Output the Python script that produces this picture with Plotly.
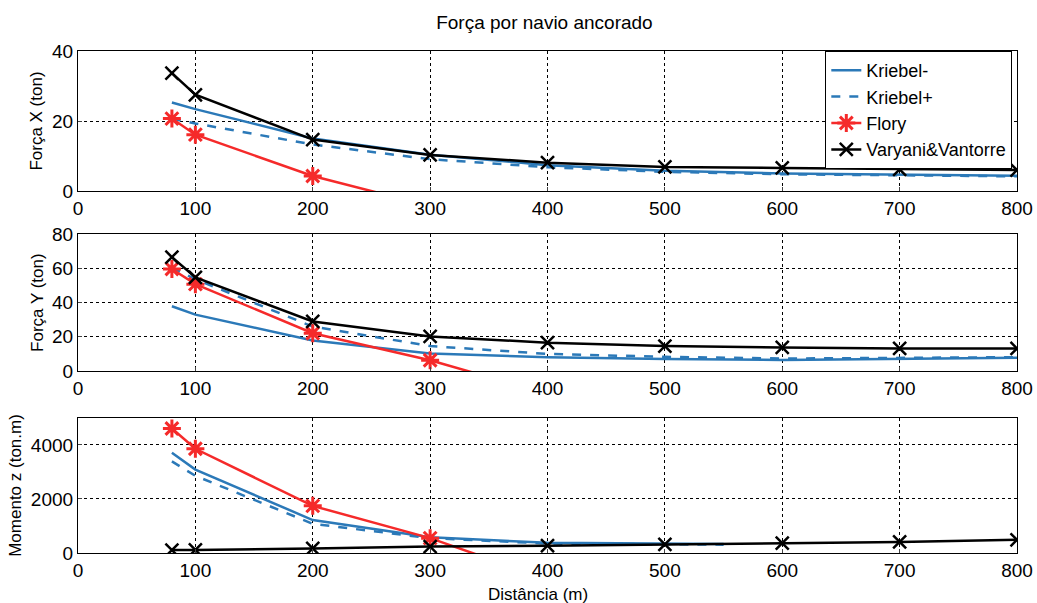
import plotly.graph_objects as go
from plotly.subplots import make_subplots

# ---- data ----
dist = [80, 100, 200, 300, 400, 500, 600, 700, 800]
dist_flory_x = [80, 100, 200, 300]
dist_flory = [80, 100, 200, 300, 400]
dist_kriebel_m = [80, 100, 200, 300, 400, 500, 550]

kriebel_minus_x = [25.3, 23.4, 15.0, 10.4, 7.4, 5.8, 5.0, 4.6, 4.4]
kriebel_plus_x = [20.7, 19.3, 13.3, 9.1, 6.8, 5.5, 4.8, 4.4, 4.2]
flory_x = [20.7, 16.1, 4.3, -4.3]
varyani_x = [33.7, 27.5, 14.7, 10.3, 8.1, 6.9, 6.6, 6.2, 6.0]

kriebel_minus_y = [37.9, 33.0, 17.8, 10.3, 8.0, 7.0, 6.5, 7.0, 7.8]
kriebel_plus_y = [60.5, 53.7, 26.0, 14.6, 10.0, 8.3, 7.3, 7.5, 8.1]
flory_y = [59.7, 50.8, 22.1, 6.3, -13.4]
varyani_y = [66.6, 54.8, 29.0, 20.2, 16.6, 14.6, 13.8, 13.2, 13.2]

kriebel_minus_m = [3710, 3090, 1220, 585, 380, 340, 330]
kriebel_plus_m = [3390, 2860, 1080, 550, 350, 320, 310]
flory_m = [4610, 3860, 1745, 550, -978]
varyani_m = [110, 115, 170, 240, 270, 320, 370, 410, 490]

x_ticks = [0, 100, 200, 300, 400, 500, 600, 700, 800]
names = ["Kriebel-", "Kriebel+", "Flory", "Varyani&Vantorre"]
titles_y = ["Força X (ton)", "Força Y (ton)", "Momento z (ton.m)"]

BLUE = "#2b79b8"
RED = "#f52a2a"
FONT = "Liberation Sans, Arial, sans-serif"

fig = make_subplots(rows=3, cols=1, vertical_spacing=0.09)

panels = [
    (dist, kriebel_minus_x, dist, kriebel_plus_x, dist_flory_x, flory_x, dist, varyani_x),
    (dist, kriebel_minus_y, dist, kriebel_plus_y, dist_flory, flory_y, dist, varyani_y),
    (dist_kriebel_m, kriebel_minus_m, dist_kriebel_m, kriebel_plus_m, dist_flory, flory_m, dist, varyani_m),
]

for i, (kx1, ky1, kx2, ky2, fx, fy, vx, vy) in enumerate(panels):
    r = i + 1
    show = i == 0
    fig.add_trace(go.Scatter(x=kx1, y=ky1, mode="lines", name=names[0], showlegend=show,
                             line=dict(color=BLUE, width=2.5)), row=r, col=1)
    fig.add_trace(go.Scatter(x=kx2, y=ky2, mode="lines", name=names[1], showlegend=show,
                             line=dict(color=BLUE, width=2.5, dash="dash")), row=r, col=1)
    fig.add_trace(go.Scatter(x=fx, y=fy, mode="lines+markers", name=names[2], showlegend=show,
                             line=dict(color=RED, width=2.5),
                             marker=dict(symbol="asterisk-open", size=15,
                                         line=dict(color=RED, width=3))), row=r, col=1)
    fig.add_trace(go.Scatter(x=vx, y=vy, mode="lines+markers", name=names[3], showlegend=show,
                             line=dict(color="black", width=2.5),
                             marker=dict(symbol="x-thin-open", size=13,
                                         line=dict(color="black", width=2.5))), row=r, col=1)

y_ranges = [[0, 40], [0, 80], [0, 5000]]
y_ticks = [[0, 20, 40], [0, 20, 40, 60, 80], [0, 2000, 4000]]
domains = [[0.721, 1.0], [0.3625, 0.635], [0.0, 0.269]]

for i in range(3):
    r = i + 1
    fig.update_xaxes(range=[0, 800], tickvals=x_ticks, showgrid=True, gridcolor="black",
                     griddash="dot", gridwidth=1, showline=True, linecolor="black",
                     linewidth=1.2, mirror=True, ticks="inside", ticklen=4,
                     tickfont=dict(size=19, color="black", family=FONT), zeroline=False,
                     automargin=False, row=r, col=1)
    fig.update_yaxes(range=y_ranges[i], tickvals=y_ticks[i], showgrid=True, gridcolor="black",
                     griddash="dot", gridwidth=1, showline=True, linecolor="black",
                     linewidth=1.2, mirror=True, ticks="inside", ticklen=4,
                     tickfont=dict(size=19, color="black", family=FONT), zeroline=False,
                     domain=domains[i], automargin=False,
                     title=dict(text=titles_y[i], font=dict(size=17, color="black", family=FONT),
                                standoff=4),
                     row=r, col=1)

fig.add_annotation(text="Distância (m)", xref="paper", yref="paper", x=0.49, y=-0.0817,
                   xanchor="center", yanchor="middle", showarrow=False,
                   font=dict(size=17, color="black", family=FONT))

fig.update_layout(
    width=1037, height=603,
    margin=dict(l=78, r=20, t=51, b=50),
    paper_bgcolor="white", plot_bgcolor="white",
    title=dict(text="Força por navio ancorado", x=0.525, xanchor="center", y=0.963,
               yanchor="middle", font=dict(size=19, color="black", family=FONT)),
    legend=dict(x=0.995, y=1.0, xanchor="right", yanchor="top",
                bgcolor="white", bordercolor="black", borderwidth=1,
                font=dict(size=18, color="black", family=FONT),
                tracegroupgap=0, itemwidth=30),
    showlegend=True,
)

fig.write_html("out.html")
